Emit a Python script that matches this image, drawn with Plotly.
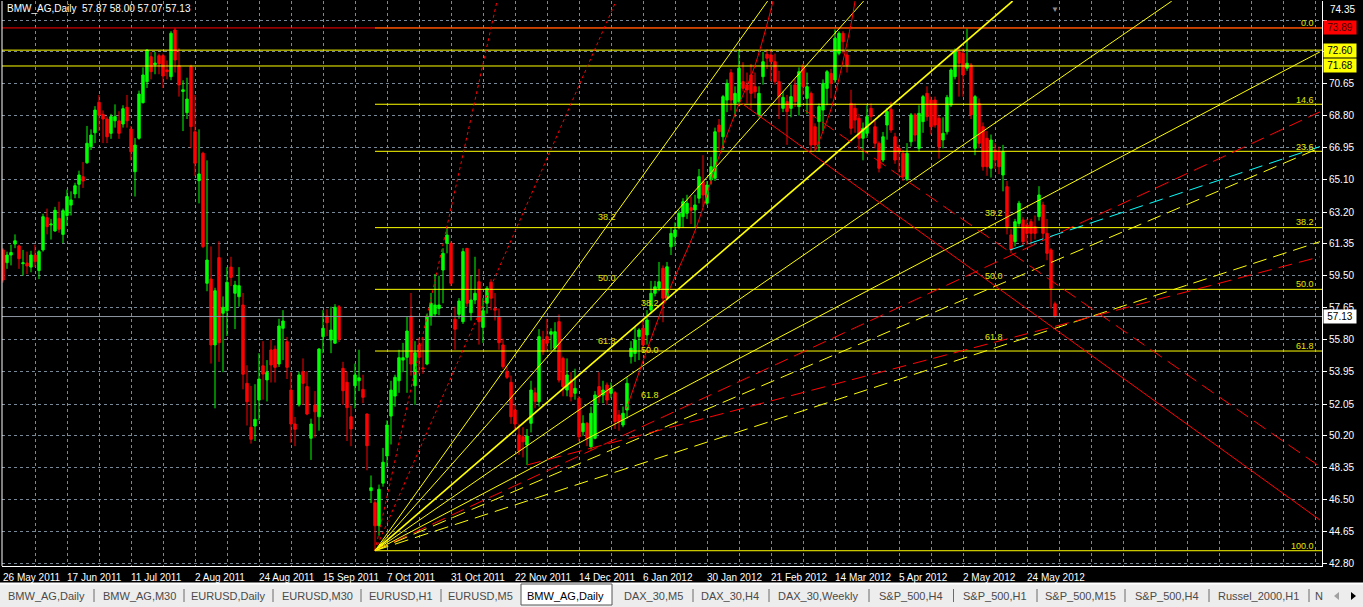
import plotly.graph_objects as go

# ---------------- data ----------------
# daily bars, index 0 = 26 May 2011 ... index 263 = last bar (57.87 58.00 57.07 57.13)
opens = [61.0, 60.26, 60.7, 61.34, 61.23, 60.2, 60.24, 60.0, 60.7, 59.8,
         61.0, 62.87, 62.45, 62.1, 62.83, 61.9, 63.0, 63.6, 64.25, 64.81,
         65.25, 66.06, 66.99, 67.8, 69.57, 68.87, 68.6, 67.77, 68.5, 68.49,
         68.31, 69.28, 68.02, 65.54, 67.48, 69.55, 70.77, 72.22, 71.75, 72.28,
         72.28, 71.45, 71.06, 73.77, 71.7, 70.2, 68.97, 71.64, 67.86, 65.02,
         66.61, 59.06, 59.31, 55.48, 60.55, 57.32, 57.47, 60.0, 58.48, 58.28,
         57.8, 53.25, 50.7, 50.77, 52.28, 54.27, 53.45, 55.19, 55.23, 54.37,
         56.45, 55.67, 52.86, 50.89, 52.0, 53.93, 53.06, 50.06, 51.99, 51.31,
         55.96, 57.16, 55.77, 55.58, 57.7, 54.12, 53.31, 51.31, 53.11, 53.4,
         52.9, 51.47, 47.02, 46.32, 44.98, 47.45, 49.03, 51.35, 52.51, 53.4,
         54.6, 54.76, 57.16, 53.11, 55.48, 54.15, 54.37, 57.12, 57.28, 57.6,
         59.83, 61.38, 61.38, 56.97, 57.26, 56.83, 61.09, 57.35, 58.09, 59.15,
         56.5, 57.9, 59.12, 57.6, 57.09, 55.48, 53.93, 53.31, 51.7, 50.25,
         50.15, 49.67, 50.93, 52.7, 52.18, 55.77, 55.96, 56.1, 55.29, 56.83,
         54.7, 52.86, 53.44, 52.67, 52.38, 50.44, 50.93, 49.57, 50.06, 53.06,
         52.57, 53.15, 52.67, 52.71, 51.41, 50.83, 51.7, 54.8, 54.99, 55.96,
         56.45, 56.06, 57.51, 58.48, 58.77, 59.93, 58.19, 61.18, 61.77, 62.35,
         62.93, 63.13, 63.45, 63.32, 64.0, 64.96, 63.71, 65.06, 65.16, 68.25,
         67.57, 69.7, 71.29, 69.51, 69.61, 70.77, 70.58, 71.16, 70.48, 68.84,
         71.06, 72.36, 72.32, 71.93, 70.77, 69.22, 69.61, 69.22, 70.58, 69.32,
         71.64, 69.8, 70.09, 68.15, 68.45, 69.12, 70.38, 71.25, 70.87, 72.42,
         73.58, 72.32, 69.51, 69.22, 68.64, 67.48, 67.77, 69.22, 68.15, 67.19,
         66.22, 68.25, 69.16, 67.57, 66.9, 66.61, 65.1, 67.28, 68.84, 66.9,
         68.45, 70.09, 69.7, 69.7, 68.64, 67.38, 67.86, 69.41, 71.06, 72.51,
         72.42, 71.55, 71.74, 66.9, 69.5, 68.15, 67.48, 65.74, 66.8, 66.7,
         65.35, 64.67, 61.87, 61.48, 62.54, 62.74, 62.45, 62.64, 62.35, 62.93,
         63.61, 61.96, 61.0, 57.87]
highs = [61.1, 60.9, 61.3, 61.9, 61.3, 61.0, 60.9, 60.95, 61.3, 61.0,
         63.1, 63.4, 62.8, 63.5, 63.8, 63.4, 64.5, 64.4, 64.9, 65.6,
         66.1, 68.2, 68.0, 69.35, 70.0, 69.1, 68.75, 68.9, 69.45, 69.05,
         69.4, 70.0, 68.2, 67.5, 70.25, 71.6, 72.65, 72.5, 72.5, 72.4,
         72.4, 72.0, 73.7, 73.89, 72.7, 70.85, 71.0, 71.75, 70.0, 68.0,
         66.7, 66.2, 61.2, 58.8, 61.5, 58.3, 60.0, 60.6, 59.2, 60.0,
         58.5, 54.3, 53.1, 53.2, 55.0, 55.7, 54.6, 55.8, 55.45, 57.0,
         57.5, 55.95, 53.9, 51.3, 53.93, 54.7, 53.95, 51.2, 52.8, 55.3,
         57.5, 57.55, 57.7, 57.85, 57.8, 54.5, 53.95, 51.95, 54.4, 55.2,
         53.75, 51.5, 47.9, 46.47, 47.37, 49.5, 51.1, 53.4, 53.75, 55.2,
         55.6, 57.1, 58.5, 55.7, 55.9, 55.9, 57.3, 58.5, 59.6, 59.5,
         61.1, 62.3, 61.5, 57.7, 58.2, 61.1, 61.1, 59.5, 60.6, 59.9,
         58.2, 58.9, 59.3, 58.5, 57.6, 55.85, 54.2, 53.7, 52.0, 50.9,
         50.7, 50.6, 53.4, 53.0, 56.4, 56.3, 57.0, 56.45, 56.8, 57.25,
         54.8, 54.7, 53.9, 54.1, 52.5, 51.4, 51.0, 51.9, 52.8, 53.9,
         53.4, 53.3, 53.3, 52.8, 51.7, 51.9, 53.6, 55.7, 56.5, 56.45,
         57.0, 57.5, 59.2, 59.2, 60.3, 60.1, 60.3, 62.3, 62.6, 63.3,
         64.0, 64.2, 64.1, 64.2, 65.7, 66.5, 65.0, 66.4, 68.1, 68.6,
         70.0, 70.9, 71.5, 70.5, 72.6, 71.9, 71.3, 71.8, 71.3, 70.5,
         72.5, 72.65, 72.65, 72.4, 71.4, 70.2, 70.0, 70.6, 70.9, 71.6,
         71.8, 71.3, 70.2, 68.35, 69.5, 70.9, 71.45, 71.5, 73.8, 73.7,
         73.7, 72.6, 70.3, 69.5, 68.9, 68.4, 69.4, 69.5, 68.5, 67.3,
         67.85, 69.25, 69.6, 67.8, 67.1, 66.8, 67.2, 68.95, 68.95, 69.4,
         70.0, 70.5, 69.9, 69.9, 68.8, 68.7, 70.0, 71.55, 72.7, 72.8,
         72.7, 73.85, 71.85, 70.0, 69.8, 68.4, 67.9, 67.7, 67.2, 67.0,
         67.1, 65.0, 62.2, 62.8, 63.85, 62.9, 62.8, 62.8, 63.0, 64.7,
         63.8, 62.8, 61.1, 58.0]
lows = [59.1, 59.9, 60.1, 61.1, 59.9, 59.5, 59.6, 59.7, 60.0, 59.3,
        60.9, 61.9, 61.6, 62.05, 62.0, 61.4, 62.4, 63.0, 64.0, 64.0,
        64.6, 66.0, 66.8, 67.2, 67.9, 67.2, 67.2, 67.45, 68.1, 67.45,
        68.1, 68.1, 66.2, 64.1, 67.4, 69.5, 70.4, 70.9, 71.2, 71.2,
        70.4, 70.9, 70.85, 71.3, 69.9, 67.9, 68.6, 66.9, 65.3, 63.7,
        61.1, 58.6, 54.4, 51.8, 54.5, 53.9, 56.0, 58.9, 56.4, 57.7,
        52.9, 50.8, 49.75, 49.9, 51.1, 52.3, 52.2, 53.3, 53.3, 54.2,
        54.6, 53.5, 49.8, 49.6, 51.9, 52.0, 51.4, 48.8, 50.1, 50.5,
        55.0, 56.0, 55.0, 55.55, 55.65, 52.0, 49.9, 49.6, 51.8, 52.8,
        52.1, 48.2, 46.3, 43.53, 44.4, 47.25, 48.4, 49.7, 51.9, 52.7,
        53.9, 52.7, 53.7, 52.0, 53.8, 53.8, 54.3, 56.6, 57.1, 57.2,
        57.9, 60.8, 58.9, 55.2, 57.0, 56.7, 57.7, 56.9, 57.85, 55.5,
        55.6, 57.3, 57.5, 56.9, 55.2, 54.1, 53.5, 50.9, 50.6, 49.1,
        48.95, 48.51, 50.4, 51.8, 51.9, 54.9, 55.2, 55.2, 55.1, 53.3,
        52.5, 52.5, 52.2, 52.3, 49.9, 50.2, 49.6, 49.4, 50.0, 52.1,
        52.1, 52.0, 52.4, 50.6, 50.5, 50.7, 51.2, 54.4, 54.5, 54.6,
        55.2, 55.5, 57.3, 58.3, 58.6, 56.8, 58.1, 60.7, 61.2, 62.2,
        62.3, 62.8, 62.5, 62.3, 63.7, 63.5, 63.6, 64.8, 65.0, 66.8,
        66.8, 69.0, 69.1, 68.7, 69.5, 70.2, 69.5, 69.2, 69.8, 68.7,
        70.6, 71.5, 70.8, 70.6, 68.6, 69.0, 67.1, 68.7, 69.3, 68.8,
        70.0, 68.9, 66.7, 66.7, 66.7, 67.9, 69.4, 69.8, 70.7, 72.3,
        72.4, 71.3, 67.7, 67.8, 66.8, 66.2, 67.5, 68.5, 66.9, 65.5,
        66.1, 67.4, 67.8, 66.0, 65.5, 65.0, 65.0, 67.0, 67.3, 66.7,
        67.8, 68.5, 67.7, 68.1, 66.3, 66.9, 67.7, 69.3, 70.9, 69.9,
        69.9, 71.4, 68.6, 66.5, 66.9, 65.6, 65.3, 65.2, 65.7, 65.4,
        64.4, 61.9, 60.8, 61.2, 62.35, 61.2, 61.3, 61.3, 61.6, 62.7,
        61.6, 60.4, 57.6, 57.07]
closes = [59.25, 60.7, 60.85, 61.53, 60.49, 60.25, 60.07, 60.7, 60.32, 60.9,
          62.93, 62.35, 62.5, 63.3, 62.2, 63.28, 64.1, 63.9, 64.73, 65.35,
          65.0, 67.19, 67.67, 69.12, 68.83, 68.6, 67.57, 68.74, 68.74, 67.77,
          69.2, 68.5, 66.7, 67.09, 70.05, 71.16, 72.61, 71.35, 71.85, 71.8,
          71.1, 71.35, 73.58, 72.03, 70.58, 70.3, 69.76, 68.16, 66.03, 65.41,
          61.19, 60.41, 55.48, 58.63, 55.61, 57.67, 59.12, 59.4, 58.96, 58.92,
          53.78, 52.18, 50.0, 51.16, 53.5, 53.79, 53.89, 54.32, 54.18, 56.58,
          56.87, 54.18, 50.89, 50.58, 53.74, 53.25, 51.47, 50.89, 51.6, 55.24,
          56.45, 56.77, 56.35, 57.67, 55.8, 52.82, 51.84, 50.6, 53.74, 53.57,
          52.44, 49.63, 47.19, 44.98, 47.1, 48.67, 50.83, 52.86, 53.6, 54.74,
          54.74, 56.29, 54.37, 55.03, 54.76, 54.1, 57.16, 57.9, 57.8, 57.8,
          60.8, 61.86, 59.06, 56.39, 58.03, 60.9, 57.9, 58.09, 58.48, 56.83,
          57.47, 58.77, 58.19, 57.5, 55.61, 54.22, 53.6, 51.31, 50.89, 49.34,
          49.86, 50.19, 52.86, 52.2, 55.96, 55.09, 55.58, 56.25, 56.25, 53.44,
          53.06, 53.74, 52.47, 52.96, 50.15, 50.93, 50.06, 51.51, 52.57, 52.47,
          52.86, 52.28, 52.96, 51.03, 51.03, 51.51, 53.25, 55.29, 55.77, 56.35,
          55.48, 56.93, 58.48, 58.86, 59.15, 58.19, 60.02, 61.96, 62.16, 63.13,
          63.8, 63.71, 63.3, 63.61, 65.25, 64.19, 64.77, 65.83, 67.86, 67.86,
          69.9, 70.67, 69.7, 70.09, 71.55, 70.38, 70.29, 70.09, 70.19, 70.09,
          71.93, 72.13, 71.93, 70.77, 69.9, 69.86, 69.03, 69.9, 69.61, 71.35,
          70.48, 70.48, 67.09, 67.09, 69.32, 70.67, 71.35, 70.67, 73.29, 73.58,
          73.09, 71.74, 68.06, 68.54, 67.48, 68.06, 68.74, 68.74, 67.19, 65.74,
          67.57, 69.03, 67.96, 66.22, 66.7, 65.25, 66.61, 68.84, 67.67, 68.93,
          69.9, 68.74, 68.15, 68.25, 66.99, 67.77, 69.86, 71.45, 72.52, 71.84,
          71.16, 71.84, 68.84, 69.9, 67.19, 65.83, 65.83, 67.38, 66.22, 65.83,
          66.7, 62.35, 61.0, 62.64, 63.71, 61.48, 61.96, 61.96, 61.96, 64.19,
          61.96, 60.8, 58.77, 57.13]

date_labels = ["26 May 2011", "17 Jun 2011", "11 Jul 2011", "2 Aug 2011", "24 Aug 2011",
               "15 Sep 2011", "7 Oct 2011", "31 Oct 2011", "22 Nov 2011", "14 Dec 2011",
               "6 Jan 2012", "30 Jan 2012", "21 Feb 2012", "14 Mar 2012", "5 Apr 2012",
               "2 May 2012", "24 May 2012"]
label_every = 16          # one date label every 16 bars
grid_every = 8            # one vertical grid line every 8 bars

price_ticks = [74.35, 72.50, 70.65, 68.80, 66.95, 65.10, 63.20, 61.35, 59.50,
               57.65, 55.80, 53.95, 52.05, 50.20, 48.35, 46.50, 44.65, 42.80]

# fibonacci retracement
fib_high = 73.89
fib_low = 43.53
fib_start = 93
fib_levels = [0.0, 14.6, 23.6, 38.2, 50.0, 61.8, 100.0]

# full width horizontal lines and the bid line
red_line = 73.89
yellow_lines = [72.60, 71.68]
bid = 57.13

# fan from the October low
fan_origin = (93, 43.53)
fan_end_bars = [123.5, 153.25, 191.15, 215.15, 252.4, 292.2, 329.25, 329.25, 329.25, 329.25]
fan_end_prices = [75.45, 75.45, 75.45, 75.45, 75.45, 75.45, 72.5, 69.02, 66.93, 61.48]

# other trend lines: start bar, start price, end bar, end price
trend_lines = [
    (131.0, 48.51, 329.25, 60.60),   # red dashed from December low
    (251.75, 61.00, 329.25, 67.00),  # cyan dashed
    (184.7, 69.51, 329.25, 45.31),   # red solid falling
    (200.5, 69.11, 329.25, 48.41),   # red dashed falling
]

# arcs
arc1_bars = [155.9, 165.9, 173.4, 178.4, 183.4, 187.6, 191.3, 192.5]
arc1_prices = [51.80, 58.28, 62.35, 66.03, 69.12, 71.45, 74.35, 75.45]
arc2_bars = [203.0, 205.1, 207.2, 209.3, 212.2, 213.0]
arc2_prices = [66.70, 67.96, 69.32, 71.25, 74.35, 75.45]

# fib text labels
edge_texts = ["0.0", "14.6", "23.6", "38.2", "50.0", "61.8", "100.0"]
edge_prices = [74.19, 69.70, 66.98, 62.62, 59.02, 55.43, 43.80]
mid_texts = ["38.2", "50.0", "61.8"]
mid1_prices = [62.93, 59.37, 55.73]
mid2_prices = [63.16, 59.50, 55.96]
fan_label_prices = [57.92, 55.19, 52.58]

tabs = ["BMW_AG,Daily", "BMW_AG,M30", "EURUSD,Daily", "EURUSD,M30", "EURUSD,H1",
        "EURUSD,M5", "BMW_AG,Daily", "DAX_30,M5", "DAX_30,H4", "DAX_30,Weekly",
        "S&amp;P_500,H4", "S&amp;P_500,H1", "S&amp;P_500,M15", "S&amp;P_500,H4",
        "Russel_2000,H1", "N"]
active_tab = 6

# ---------------- layout constants ----------------
W, H = 1363, 607
ML, MR, MT, MB = 2, 41, 1, 41
PW = W - ML - MR
PH = H - MT - MB
X_RANGE = [-0.25, 329.75]
Y_RANGE = [42.643, 75.454]

def paper_x(px):
    return (px - ML) / PW

def paper_y(py):
    return (H - MB - py) / PH

YELLOW = "#ffff00"
RED = "#ff0000"
FIBTXT = "#e6e600"
DASH = "14px,7px"
FONT = "Liberation Sans, Arial, sans-serif"

n = len(closes)
fig = go.Figure()

fig.add_trace(go.Candlestick(
    x=list(range(n)), open=opens, high=highs, low=lows, close=closes,
    increasing=dict(line=dict(color="#00ff00", width=1), fillcolor="#00ff00"),
    decreasing=dict(line=dict(color=RED, width=1), fillcolor=RED),
    whiskerwidth=0, hoverinfo="skip", showlegend=False))

def seg(x, y, color, width=1, dash="solid", shape="linear"):
    fig.add_trace(go.Scatter(x=x, y=y, mode="lines", hoverinfo="skip", showlegend=False,
                             line=dict(color=color, width=width, dash=dash, shape=shape)))

# fib retracement levels
for lv in fib_levels:
    p = fib_high - lv / 100.0 * (fib_high - fib_low)
    seg([fib_start, X_RANGE[1]], [p, p], YELLOW)

# full width lines
for p in yellow_lines:
    seg([X_RANGE[0], X_RANGE[1]], [p, p], YELLOW)
seg([X_RANGE[0], X_RANGE[1]], [red_line, red_line], RED)
seg([X_RANGE[0], X_RANGE[1]], [bid, bid], "#8f98a3")

# fan
fan_styles = [(RED, 1, "3px,3px"), (RED, 1, "3px,3px"), (YELLOW, 1, "solid"),
              (YELLOW, 1, "solid"), (YELLOW, 1.6, "solid"), (YELLOW, 1, "solid"),
              (YELLOW, 1, "solid"), (RED, 1, DASH), (YELLOW, 1, DASH), (YELLOW, 1, DASH)]
for bx, py, st in zip(fan_end_bars, fan_end_prices, fan_styles):
    seg([fan_origin[0], bx], [fan_origin[1], py], st[0], st[1], st[2])

trend_styles = [(RED, DASH), ("#00ffff", DASH), (RED, "solid"), (RED, DASH)]
for (b0, p0, b1, p1), st in zip(trend_lines, trend_styles):
    seg([b0, b1], [p0, p1], st[0], 1, st[1])

seg(arc1_bars, arc1_prices, RED, shape="spline")
seg(arc2_bars, arc2_prices, RED, shape="spline")

ann = []
txt_font = dict(family=FONT, size=9, color=FIBTXT)
for t, p in zip(edge_texts, edge_prices):
    ann.append(dict(x=328.3, y=p, xref="x", yref="y", text=t, showarrow=False,
                    xanchor="right", yanchor="middle", font=txt_font))
for bx, prices in [(150.9, mid1_prices), (247.75, mid2_prices), (161.75, fan_label_prices)]:
    for t, p in zip(mid_texts, prices):
        ann.append(dict(x=bx, y=p, xref="x", yref="y", text=t, showarrow=False,
                        xanchor="center", yanchor="middle", font=txt_font))

# top axis label sits squeezed against the frame top, as in the terminal
ann.append(dict(x=1, y=paper_y(10), xref="paper", yref="paper", text=f"{price_ticks[0]:.2f}",
                showarrow=False, xanchor="left", yanchor="middle", xshift=6,
                font=dict(family=FONT, size=10, color="#ffffff")))

# price boxes on the axis
for p, bg, fg in [(red_line, RED, "#3a0000"), (yellow_lines[0], YELLOW, "#000000"),
                  (yellow_lines[1], YELLOW, "#000000"), (bid, "#ffffff", "#000000")]:
    ann.append(dict(x=1, y=p, xref="paper", yref="y", text=f"{p:.2f}", showarrow=False,
                    xanchor="left", yanchor="middle", xshift=1, bgcolor=bg, borderpad=1,
                    width=30, font=dict(family=FONT, size=10, color=fg)))

# date labels
for k, lab in enumerate(date_labels):
    ann.append(dict(x=k * label_every, y=paper_y(577), xref="x", yref="paper", text=lab,
                    showarrow=False, xanchor="left", yanchor="middle", xshift=-2,
                    font=dict(family=FONT, size=10, color="#ffffff")))

# title
ann.append(dict(x=0, y=1, xref="paper", yref="paper", xanchor="left", yanchor="top",
                xshift=3, showarrow=False,
                text="BMW_AG,Daily\u00a0\u00a057.87 58.00 57.07 57.13",
                font=dict(family=FONT, size=10, color="#ffffff")))
ann.append(dict(x=n - 1, y=1, xref="x", yref="paper", xanchor="center", yanchor="top",
                showarrow=False, text="\u25bc", font=dict(size=8, color="#8c8c8c")))

# tab strip
tab_centers = [46, 139.5, 228, 317, 400.5, 480.5, 565, 653, 730, 817.5, 910.5, 994.5,
               1080, 1166.5, 1258.5, 1319]
tab_seps = [94, 184, 273, 361, 441, 693, 769, 869, 953.5, 1037, 1125, 1209, 1309]
shapes = [
    dict(type="line", xref="paper", yref="paper", x0=0, x1=0, y0=0, y1=1,
         line=dict(color="#ffffff", width=1)),
    dict(type="rect", xref="paper", yref="paper", x0=paper_x(-5), x1=paper_x(W + 5),
         y0=paper_y(583), y1=paper_y(H + 5), fillcolor="#ededed", line=dict(width=0)),
    dict(type="line", xref="paper", yref="paper", x0=paper_x(-5), x1=paper_x(W + 5),
         y0=paper_y(583.5), y1=paper_y(583.5), line=dict(color="#ffffff", width=2)),
    dict(type="rect", xref="paper", yref="paper", x0=paper_x(521), x1=paper_x(612),
         y0=paper_y(584), y1=paper_y(605), fillcolor="#ffffff",
         line=dict(color="#555555", width=1)),
    # scroll arrows
    dict(type="path", xref="paper", yref="paper",
         path=f"M {paper_x(1339)},{paper_y(592)} L {paper_x(1339)},{paper_y(600)} L {paper_x(1334)},{paper_y(596)} Z",
         fillcolor="#a0a0a0", line=dict(width=0)),
    dict(type="path", xref="paper", yref="paper",
         path=f"M {paper_x(1351)},{paper_y(592)} L {paper_x(1351)},{paper_y(600)} L {paper_x(1356)},{paper_y(596)} Z",
         fillcolor="#000000", line=dict(width=0)),
]
for s in tab_seps:
    shapes.append(dict(type="line", xref="paper", yref="paper", x0=paper_x(s), x1=paper_x(s),
                       y0=paper_y(589), y1=paper_y(602), line=dict(color="#6a6a6a", width=1)))
for i, (t, c) in enumerate(zip(tabs, tab_centers)):
    ann.append(dict(x=paper_x(c), y=paper_y(595.5), xref="paper", yref="paper", text=t,
                    showarrow=False, xanchor="center", yanchor="middle",
                    font=dict(family=FONT, size=11,
                              color="#000000" if i == active_tab else "#4a4a4a")))

fig.update_layout(
    width=W, height=H, margin=dict(l=ML, r=MR, t=MT, b=MB, pad=0),
    paper_bgcolor="#000000", plot_bgcolor="#000000",
    showlegend=False, hovermode=False, boxgap=0.4, boxgroupgap=0,
    annotations=ann, shapes=shapes,
    xaxis=dict(range=X_RANGE, rangeslider=dict(visible=False), showticklabels=False,
               tickvals=list(range(grid_every, 330, grid_every)), ticks="",
               showgrid=True, gridcolor="#778899", griddash="3px,3px", gridwidth=1,
               zeroline=False, showline=True, linecolor="#ffffff", linewidth=1,
               automargin=False, fixedrange=True),
    yaxis=dict(range=Y_RANGE, side="right", tickvals=price_ticks,
               ticktext=[""] + [f"{v:.2f}" for v in price_ticks[1:]],
               showgrid=True, gridcolor="#778899", griddash="3px,3px", gridwidth=1,
               zeroline=False, showline=True, linecolor="#ffffff", linewidth=1,
               ticks="outside", ticklen=4, tickcolor="#ffffff",
               tickfont=dict(family=FONT, size=10, color="#ffffff"),
               automargin=False, fixedrange=True),
)

fig.write_html("out.html", config={"displayModeBar": False},
               post_script="document.body.style.margin='0';document.body.style.overflow='hidden';")
